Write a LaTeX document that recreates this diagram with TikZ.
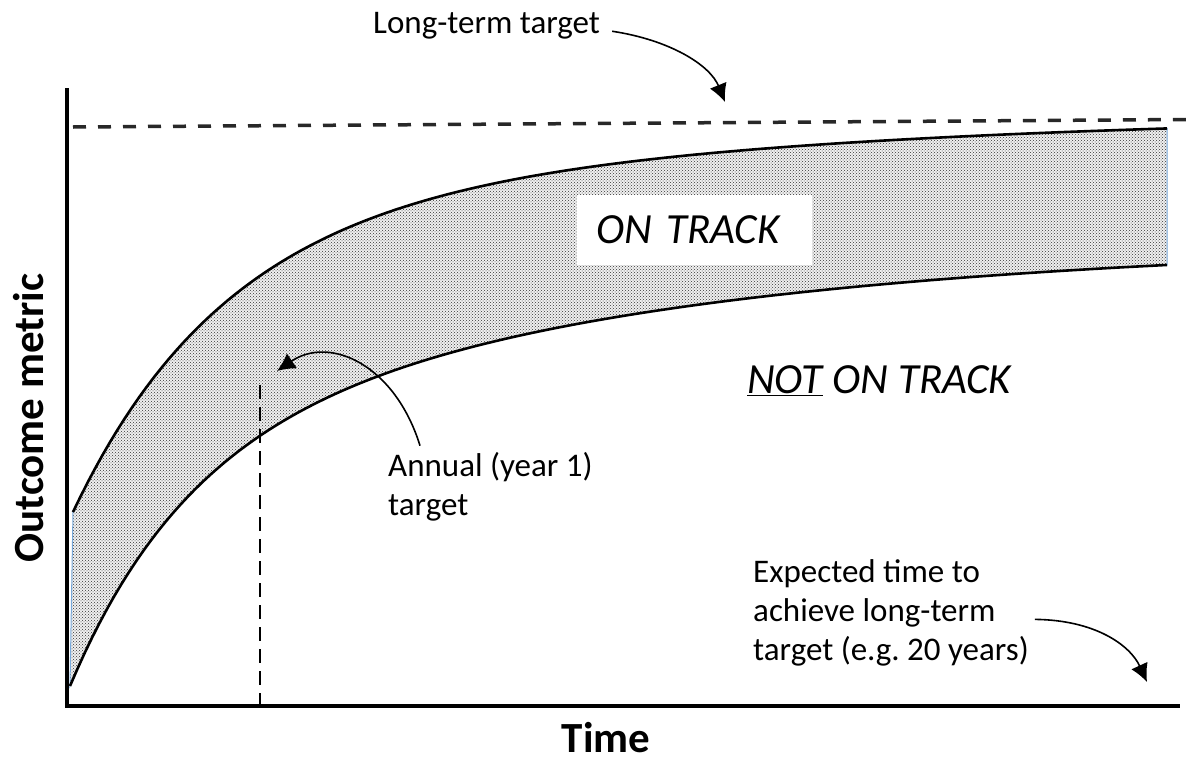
\documentclass[tikz,border=0pt]{standalone}
\usepackage{fontspec}
\setmainfont{Carlito}
\usetikzlibrary{arrows.meta,patterns}
\definecolor{bandblue}{RGB}{120,170,220}
\definecolor{dashgray}{RGB}{40,40,40}
\tikzset{>={Latex[length=18pt,width=18pt]}}
\tikzstyle{note}=[inner sep=0pt,align=left,font=\fontsize{33}{39}\selectfont]
\tikzstyle{axislabel}=[inner sep=0pt,font=\fontsize{43}{50}\selectfont\bfseries]
\tikzstyle{zone}=[inner sep=0pt,font=\fontsize{43}{50}\selectfont\itshape]
\tikzstyle{pointer}=[line width=1.6pt,->]
\tikzstyle{curve}=[line width=2.6pt,line join=round]
\tikzstyle{band}=[preaction={fill=black!6},pattern=crosshatch dots,pattern color=black!80,draw=bandblue,line width=1pt]
\tikzstyle{axis}=[line width=4pt,line join=miter]
\tikzstyle{targetline}=[dashgray,line width=3.5pt,dash pattern=on 13pt off 12pt]
\tikzstyle{yearline}=[line width=2.5pt,dash pattern=on 14pt off 8pt]

\begin{document}
\begin{tikzpicture}[x=1pt,y=-1pt]
		\useasboundingbox (0,0) rectangle (1186,763);

		\path[band] plot[domain=73:1167,samples=150] (\x,{110+289*exp(-(\x-73)/150)+113*exp(-(\x-73)/600)})
			-- plot[domain=1167:70,samples=150] (\x,{240+222*exp(-(\x-70)/115)+224*exp(-(\x-70)/500)}) -- cycle;
		\draw[curve] plot[domain=73:1167,samples=150] (\x,{110+289*exp(-(\x-73)/150)+113*exp(-(\x-73)/600)});
		\draw[curve] plot[domain=70:1167,samples=150] (\x,{240+222*exp(-(\x-70)/115)+224*exp(-(\x-70)/500)});

		\draw[targetline] (73,127) -- (1186,119.5);
		\draw[yearline] (260,385) -- (260,706);

		\coordinate (origin) at (67,706);
		\draw[axis] (67,88) -- (origin) -- (1180,706);

		\node[fill=white,zone,inner xsep=19pt,minimum height=70pt,text width=197pt,align=left,anchor=west] (on) at (577,230) {ON TRACK};
		\node[zone,anchor=base west] (off) at (747,393) {\underline{NOT} ON TRACK};

		\node[note,anchor=base west] (ltt) at (373,33) {Long-term target};
		\coordinate (lttip) at (725,102);
		\draw[pointer] ([shift={(12,6)}]ltt.east) .. controls (670,40) and (710,65) .. (lttip);

		\node[note,anchor=base west] (ann) at (388,515) {Annual (year 1)\\target};
		\coordinate (anntip) at (277,371);
		\draw[pointer] ([shift={(32,-6)}]ann.north west) .. controls (395,365) and (330,335) .. (anntip);

		\node[note,anchor=base west] (exp) at (753,660) {Expected time to\\achieve long-term\\target (e.g.\ 20 years)};
		\coordinate (exptip) at (1147,682);
		\draw[pointer] ([shift={(6,7)}]exp.east) .. controls (1095,620) and (1130,645) .. (exptip);

		\node[axislabel,anchor=base] (xlab) at (606,752) {Time};
		\node[axislabel,rotate=90] (ylab) at (29,418) {Outcome metric};
	\end{tikzpicture}
\end{document}
